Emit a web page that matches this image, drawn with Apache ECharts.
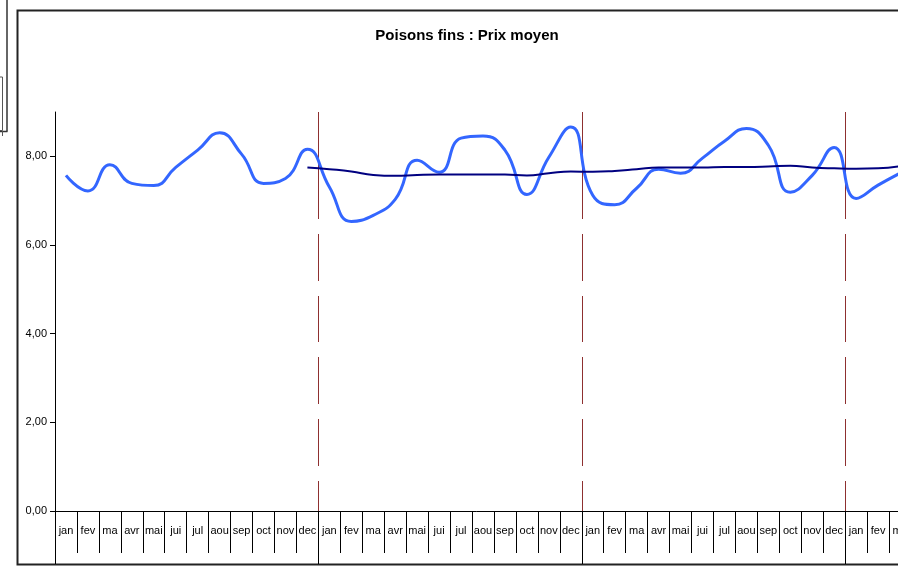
<!DOCTYPE html>
<html>
<head>
<meta charset="utf-8">
<script src="https://cdn.jsdelivr.net/npm/echarts@6/dist/echarts.min.js"></script>
<style>
html,body{margin:0;padding:0;background:#fff;}
#c{width:898px;height:566px;}
</style>
</head>
<body>
<div id="c"></div>
<script>
const monthNames = ['jan','fev','ma','avr','mai','jui','jul','aou','sep','oct','nov','dec'];
const categories = [].concat(monthNames, monthNames, monthNames, ['jan','fev','ma']);

const prixMoyen = [
  7.57, 7.22, 7.81, 7.39, 7.34, 7.75, 8.14, 8.53, 8.05, 7.39, 7.50, 8.16,
  7.31, 6.53, 6.67, 7.03, 7.91, 7.64, 8.41, 8.46, 8.14, 7.14, 7.98, 8.66,
  7.12, 6.91, 7.28, 7.71, 7.62, 7.96, 8.34, 8.63, 8.25, 7.19, 7.57, 8.20,
  7.05, 7.35, 7.62
];

const moyenneMobile = [
  null, null, null, null, null, null, null, null, null, null, null, 7.75,
  7.71, 7.66, 7.58, 7.56, 7.58, 7.59, 7.59, 7.59, 7.59, 7.57, 7.62, 7.66,
  7.65, 7.67, 7.71, 7.75, 7.75, 7.75, 7.76, 7.76, 7.77, 7.79, 7.75, 7.73,
  7.72, 7.73, 7.78
];

const yTicks = [0, 2, 4, 6, 8];

const chart = echarts.init(document.getElementById('c'), null, {renderer: 'canvas'});
const fmt = v => v.toFixed(2).replace('.', ',');

chart.setOption({
  animation: false,
  backgroundColor: '#fff',
  title: {
    text: 'Poisons fins : Prix moyen',
    left: 467,
    top: 28,
    padding: 0,
    textAlign: 'center',
    textStyle: {fontFamily: 'Liberation Sans, Arial', fontSize: 15, fontWeight: 'bold', color: '#000'}
  },
  grid: {left: 55, top: 112, bottom: 55, right: -13, containLabel: false, outerBoundsMode: 'none'},
  xAxis: [
    {
      type: 'category',
      data: categories,
      boundaryGap: true,
      axisLine: {show: true, lineStyle: {color: '#000', width: 1}},
      axisTick: {show: true, interval: 0, length: 42, lineStyle: {color: '#000', width: 1}},
      axisLabel: {interval: 0, margin: 14, color: '#000', fontSize: 11, fontFamily: 'Liberation Sans, Arial', hideOverlap: false},
      splitLine: {show: false}
    },
    {
      type: 'category',
      data: categories,
      boundaryGap: true,
      position: 'bottom',
      axisLine: {show: false},
      axisTick: {show: true, interval: (i) => i % 12 === 0, length: 53, lineStyle: {color: '#000', width: 1}},
      axisLabel: {show: false},
      splitLine: {
        show: true,
        interval: (i) => i % 12 === 0 && i > 0,
        lineStyle: {color: '#8E3030', width: 1, type: [107, 15, 47, 15, 46, 15, 47, 15, 47, 15, 40, 10]}
      }
    }
  ],
  yAxis: {
    type: 'value',
    min: 0,
    max: 9,
    interval: 2,
    axisLine: {show: true, lineStyle: {color: '#000', width: 1}},
    axisTick: {show: true, length: 5, customValues: yTicks, lineStyle: {color: '#000'}},
    axisLabel: {customValues: yTicks, margin: 8, color: '#000', fontSize: 11, fontFamily: 'Liberation Sans, Arial', formatter: fmt},
    splitLine: {show: false}
  },
  series: [
    {
      name: 'Prix moyen',
      type: 'line',
      data: prixMoyen,
      smooth: 0.5,
      showSymbol: false,
      symbol: 'none',
      lineStyle: {color: '#3366FF', width: 3},
      z: 3
    },
    {
      name: 'Moyenne mobile',
      type: 'line',
      data: moyenneMobile,
      smooth: 0.5,
      showSymbol: false,
      symbol: 'none',
      connectNulls: false,
      lineStyle: {color: '#000080', width: 2},
      z: 4
    }
  ],
  graphic: [
    {type: 'rect', shape: {x: 17.5, y: 10.5, width: 1000, height: 554}, style: {fill: null, stroke: '#222', lineWidth: 2}, silent: true},
    {type: 'line', shape: {x1: 7, y1: 0, x2: 7, y2: 131.5}, style: {stroke: '#333', lineWidth: 1.5}, silent: true},
    {type: 'line', shape: {x1: 0, y1: 131.5, x2: 7.5, y2: 131.5}, style: {stroke: '#333', lineWidth: 1.5}, silent: true},
    {type: 'rect', shape: {x: -1, y: 77, width: 3.5, height: 53.5}, style: {fill: null, stroke: '#555', lineWidth: 1}, silent: true},
    {type: 'line', shape: {x1: 2.5, y1: 131, x2: 2.5, y2: 136}, style: {stroke: '#555', lineWidth: 1}, silent: true}
  ]
});
</script>
</body>
</html>
